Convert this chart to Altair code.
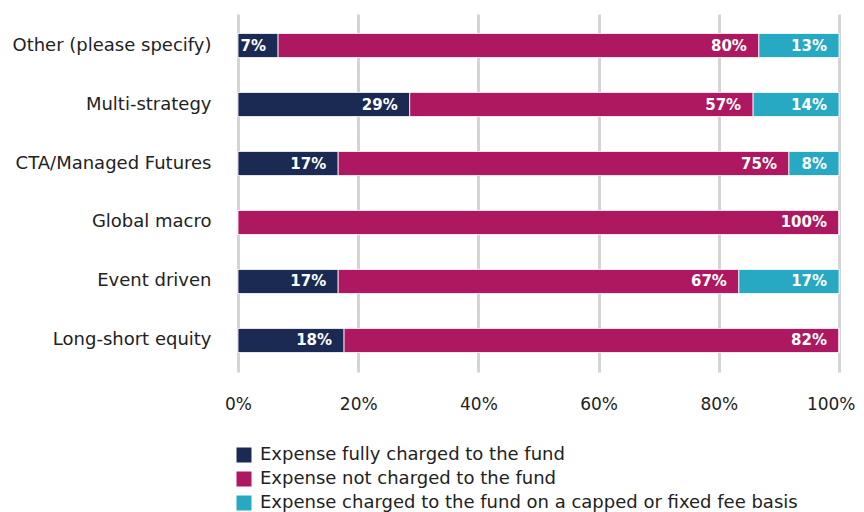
import altair as alt
import pandas as pd

categories = ["Other (please specify)", "Multi-strategy", "CTA/Managed Futures",
              "Global macro", "Event driven", "Long-short equity"]
series = ["Expense fully charged to the fund",
          "Expense not charged to the fund",
          "Expense charged to the fund on a capped or fixed fee basis"]
fully_charged = [6.67, 28.57, 16.67, 0.0, 16.67, 17.65]
not_charged = [80.0, 57.14, 75.0, 100.0, 66.67, 82.35]
capped_fixed = [13.33, 14.29, 8.33, 0.0, 16.67, 0.0]
colors = ["#1b2a52", "#ad1860", "#27a9c3"]

rows = []
for i, c in enumerate(categories):
    for k, (s, vals) in enumerate(zip(series, [fully_charged, not_charged, capped_fixed])):
        rows.append({"category": c, "series": s, "order": k, "value": vals[i]})
df = pd.DataFrame(rows)

FONT = "DejaVu Sans"

base = alt.Chart(df).transform_stack(
    stack="value", groupby=["category"], as_=["x0", "x1"],
    sort=[alt.SortField("order", order="ascending")]
)

y_enc = alt.Y("category:N", sort=categories, title=None,
              scale=alt.Scale(paddingInner=0.592, paddingOuter=0.33),
              axis=alt.Axis(labelFontSize=18, labelColor="#222222", labelFont=FONT,
                            labelPadding=27, ticks=False, domain=False, grid=False,
                            labelLimit=400))

bars = base.mark_bar(stroke="white", strokeWidth=0.8).encode(
    x=alt.X("x0:Q", title=None,
            scale=alt.Scale(domain=[0, 100], nice=False),
            axis=alt.Axis(values=[0, 20, 40, 60, 80, 100],
                          labelExpr="datum.value + '%'",
                          labelFontSize=17, labelColor="#222222", labelFont=FONT,
                          labelPadding=24, ticks=False, domain=False, labelFlush=False,
                          labelAlign=alt.expr("datum.value == 100 ? 'right' : 'center'"),
                          labelOffset=alt.expr("datum.value == 100 ? 16 : 0"),
                          grid=True, gridColor="#d4d4d4", gridWidth=3)),
    x2="x1:Q",
    y=y_enc,
    color=alt.Color("series:N", sort=series,
                    scale=alt.Scale(domain=series, range=colors),
                    legend=alt.Legend(title=None, orient="none", legendX=-3, legendY=432,
                                      direction="vertical", symbolType="square",
                                      symbolSize=225, symbolStrokeWidth=0,
                                      symbolOpacity=1, labelOffset=7,
                                      labelFontSize=18, labelFont=FONT,
                                      labelColor="#222222", rowPadding=6,
                                      labelLimit=700)),
)

labels = base.transform_filter("datum.value > 0").transform_calculate(
    lab="round(datum.value) + '%'"
).mark_text(align="right", baseline="middle", dx=-12, color="white",
            fontWeight="bold", fontSize=15, font=FONT).encode(
    x="x1:Q",
    y=alt.Y("category:N", sort=categories),
    text="lab:N",
)

chart = alt.layer(bars, labels).properties(
    width=601, height=358,
    autosize=alt.AutoSizeParams(type="none"),
    padding={"left": 230, "top": 6, "right": 17, "bottom": 150},
).configure_view(stroke=None)

chart.save("out.html", embed_options={"renderer": "svg", "actions": False})
